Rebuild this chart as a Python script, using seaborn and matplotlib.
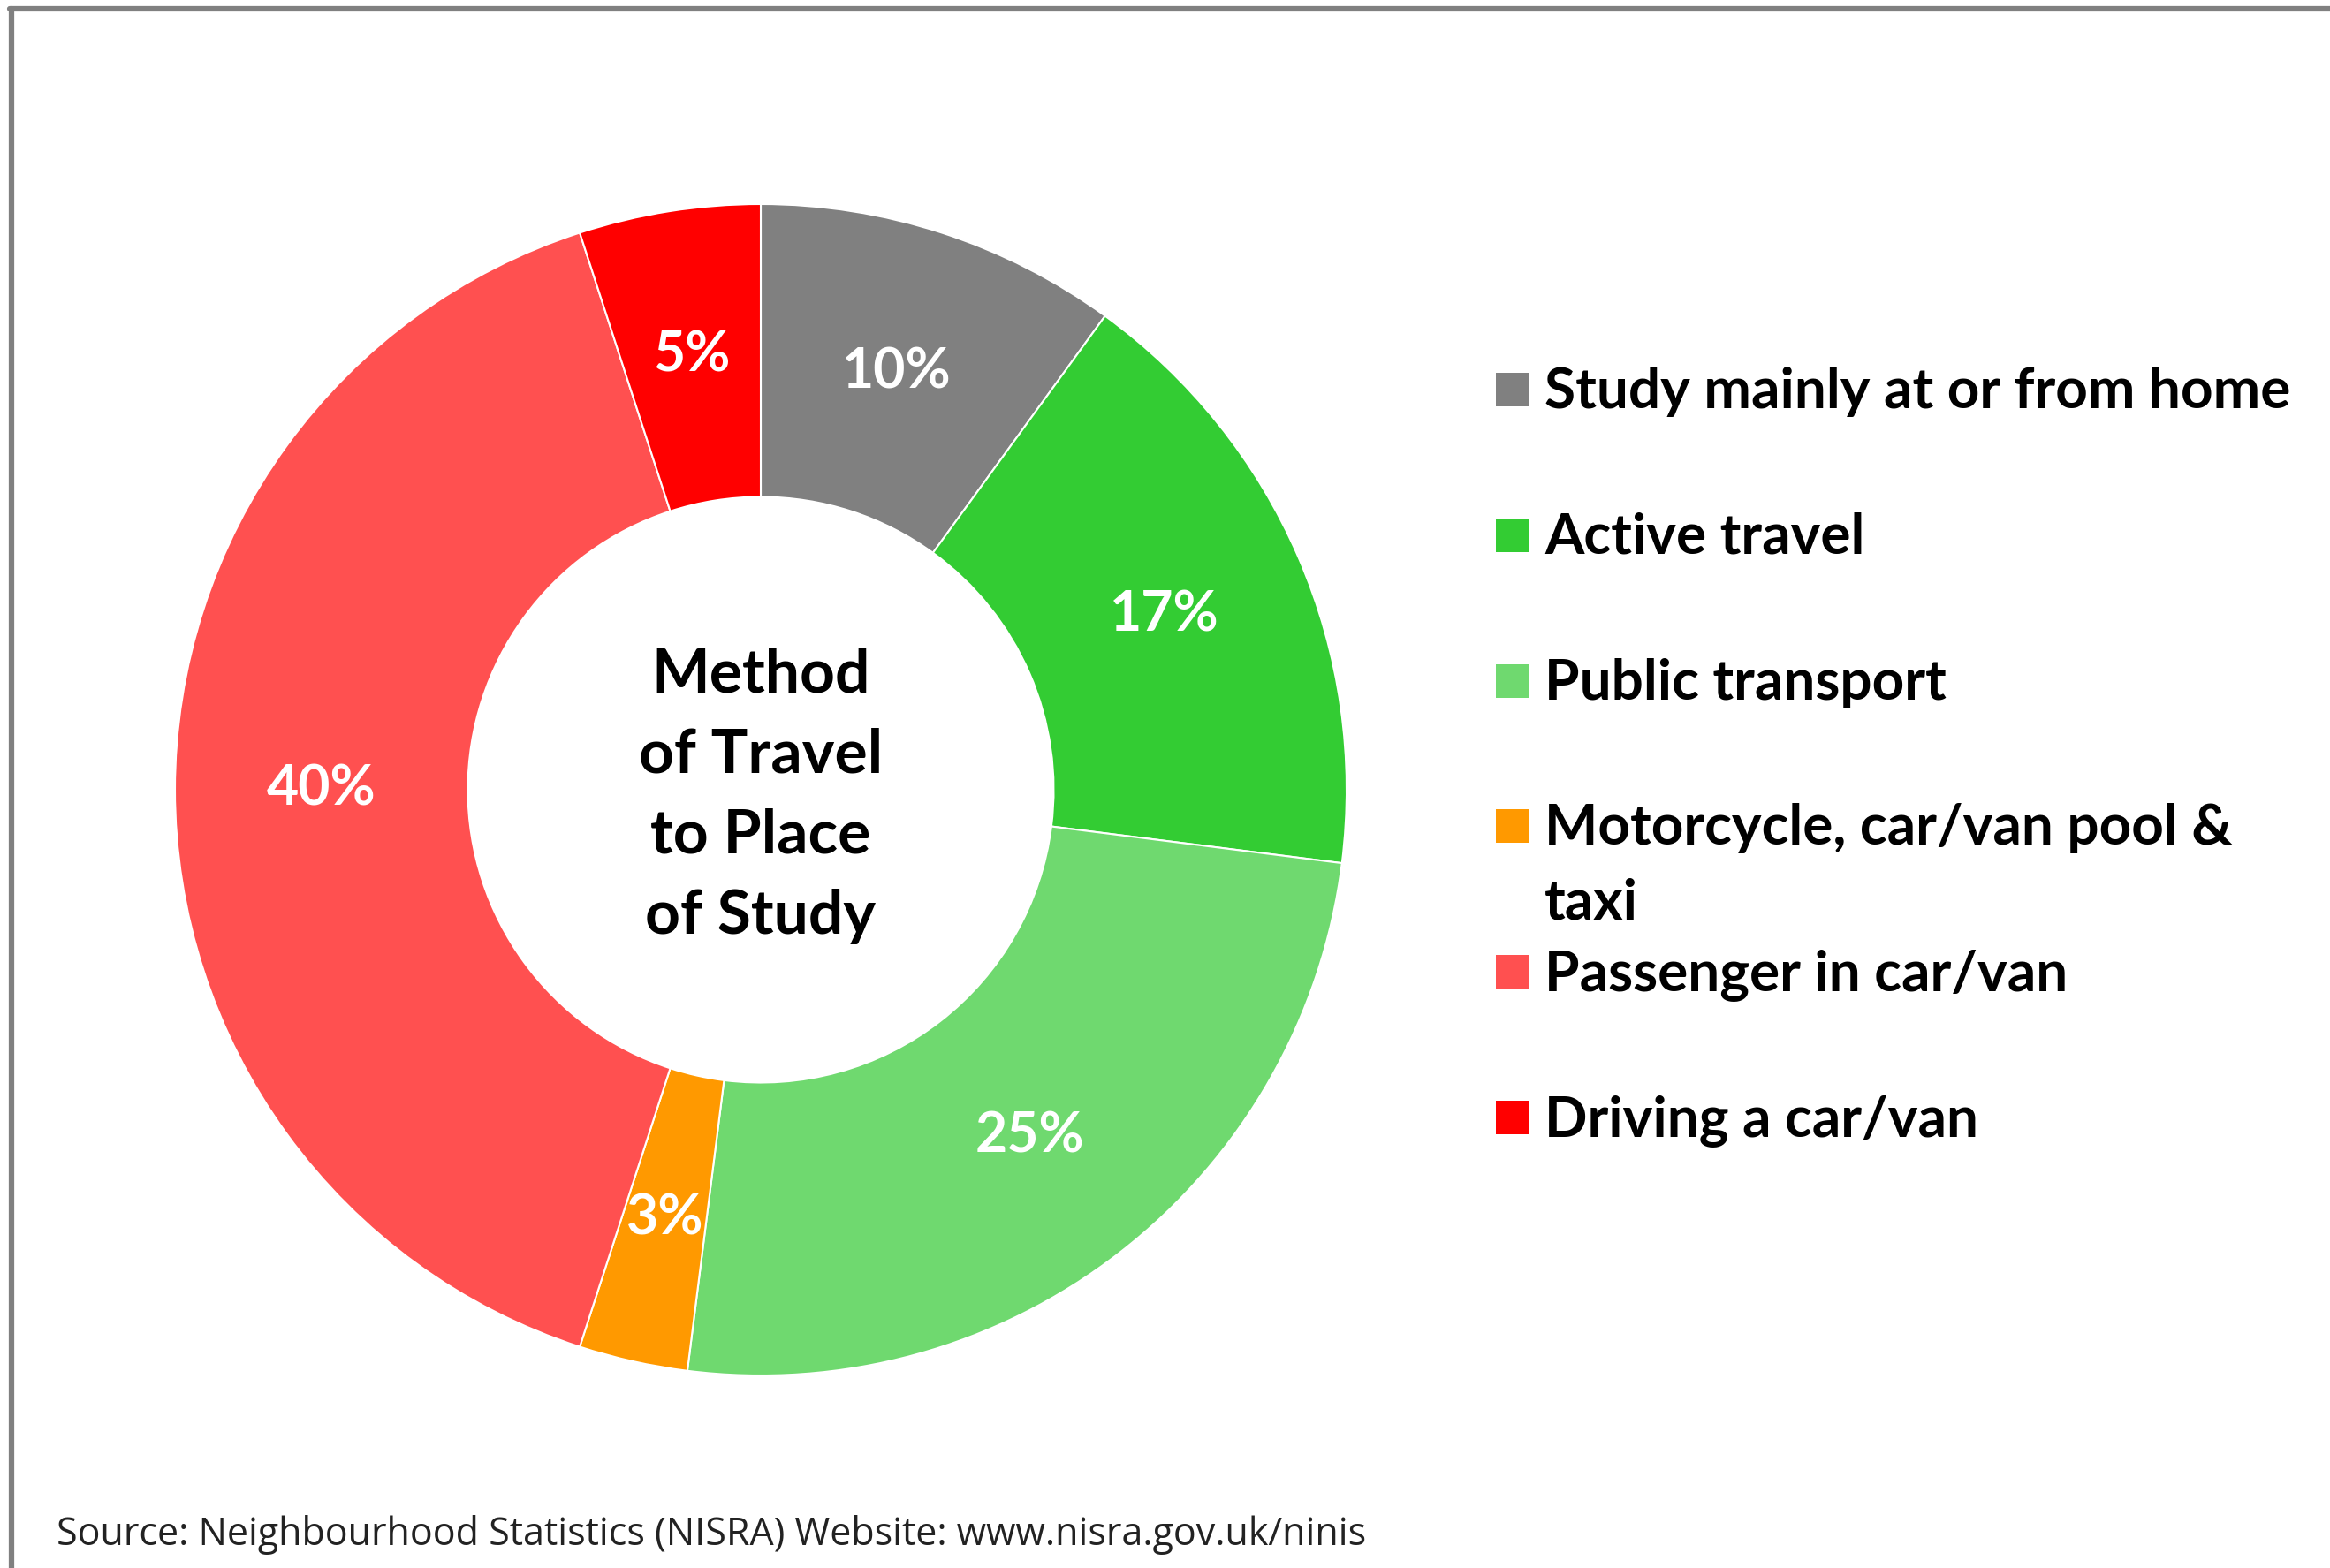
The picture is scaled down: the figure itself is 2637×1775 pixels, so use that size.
import matplotlib
matplotlib.use("Agg")
import matplotlib.pyplot as plt
import seaborn as sns
from matplotlib.patches import Rectangle
from matplotlib.lines import Line2D

# Data
categories = [
    "Study mainly at or from home",
    "Active travel",
    "Public transport",
    "Motorcycle, car/van pool &\ntaxi",
    "Passenger in car/van",
    "Driving a car/van",
]
shares = [10, 17, 25, 3, 40, 5]
colors = ["#808080", "#33CC33", "#6FD96F", "#FF9900", "#FF5050", "#FF0000"]
centre_title = "Method\nof Travel\nto Place\nof Study"
source_note = "Source: Neighbourhood Statistics (NISRA) Website: www.nisra.gov.uk/ninis"

sns.set_theme(style="white")
plt.rcParams["font.family"] = ["Lato", "DejaVu Sans"]

W, H = 2637, 1775
fig = plt.figure(figsize=(W / 100, H / 100), dpi=100)
fig.patch.set_facecolor("white")


def fx(px):
    return px / W


def fy(py):
    return 1 - py / H


# doughnut
cx, cy, R = 861, 894, 663
ax = fig.add_axes([fx(cx - R), fy(cy + R), 2 * R / W, 2 * R / H])
wedges, texts, autotexts = ax.pie(
    shares,
    colors=colors,
    startangle=90,
    counterclock=False,
    radius=1,
    wedgeprops=dict(width=0.5, edgecolor="white", linewidth=1.5),
    autopct=lambda p: f"{p:.0f}%",
    pctdistance=0.75,
    textprops=dict(color="white", fontsize=45, fontweight="bold"),
)
ax.set_xlim(-1, 1)
ax.set_ylim(-1, 1)
ax.text(0, -0.01, centre_title, ha="center", va="center", fontsize=50,
        fontweight="bold", color="black", linespacing=1.55)

# legend, drawn by hand so the wrapped entry keeps the even spacing
row0, row_gap, line_gap = 441, 164.8, 84
for i, (lab, col) in enumerate(zip(categories, colors)):
    yc = row0 + i * row_gap
    fig.add_artist(Rectangle((fx(1693), fy(yc + 19)), 38 / W, 38 / H,
                             transform=fig.transFigure, color=col, lw=0))
    for k, line in enumerate(lab.split("\n")):
        fig.text(fx(1748), fy(yc + 21 + k * line_gap), line, fontsize=46,
                 fontweight="bold", color="black", va="baseline", ha="left")

fig.text(fx(64), fy(1738), source_note, fontsize=31, color="#222222",
         va="center", ha="left", family=["Open Sans", "DejaVu Sans"])

# frame on top and left edge
fig.add_artist(Line2D([fx(13), fx(13)], [0, fy(10)], color="#808080", lw=4.5))
fig.add_artist(Line2D([fx(11), 1], [fy(10), fy(10)], color="#808080", lw=4.5))

fig.savefig("out.png", dpi=100, facecolor="white")
